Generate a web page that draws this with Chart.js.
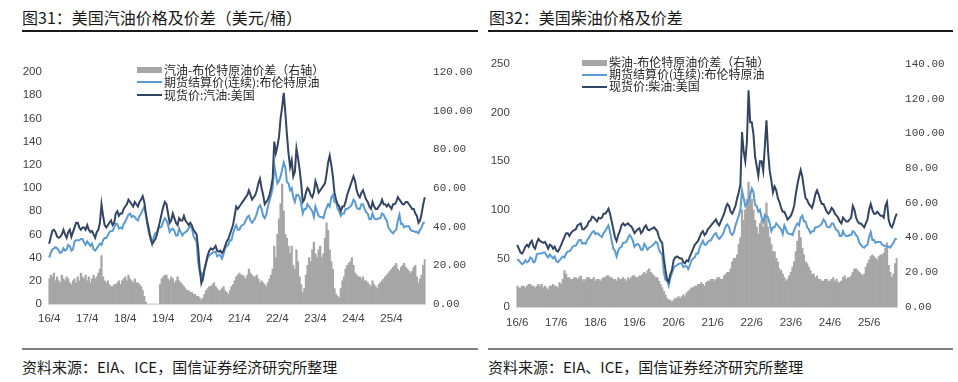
<!DOCTYPE html>
<html><head><meta charset="utf-8">
<script src="https://cdn.jsdelivr.net/npm/chart.js@4.4.1/dist/chart.umd.min.js"></script>
<style>
html,body{margin:0;padding:0;background:#fff;}
body{width:958px;height:382px;position:relative;overflow:hidden;font-family:"Noto Sans CJK SC",sans-serif;}
.abs{position:absolute;}
.title{font-size:16px;line-height:20px;color:#1a1a1a;top:7px;white-space:nowrap;}
.rtop{height:2px;background:#1a1a1a;top:30px;}
.rbot{height:2px;background:#808080;top:348px;}
.src{font-size:15px;line-height:18px;top:358px;color:#1a1a1a;white-space:nowrap;}
.legend{font-size:12px;color:#262626;}
.row{display:flex;align-items:center;height:12.5px;line-height:12.5px;white-space:nowrap;}
.sw{width:25px;margin-right:2px;flex:none;}
canvas{position:absolute;top:0;}
</style></head><body>

<div class="abs title" style="left:22px">图31：美国汽油价格及价差（美元/桶）</div>
<div class="abs rtop" style="left:22px;width:456px"></div>
<canvas id="c1" width="480" height="334" style="left:0"></canvas>
<div class="abs legend" style="left:137px;top:63.5px">
  <div class="row"><span class="sw" style="height:6px;background:#a6a6a6"></span>汽油-布伦特原油价差（右轴）</div>
  <div class="row"><span class="sw" style="height:2px;background:#5b9bd5"></span>期货结算价(连续):布伦特原油</div>
  <div class="row"><span class="sw" style="height:2px;background:#344563"></span>现货价:汽油:美国</div>
</div>
<div class="abs rbot" style="left:22px;width:456px"></div>
<div class="abs src" style="left:22px">资料来源：EIA、ICE，国信证券经济研究所整理</div>

<div class="abs title" style="left:489px">图32：美国柴油价格及价差</div>
<div class="abs rtop" style="left:488px;width:465px"></div>
<canvas id="c2" width="478" height="340" style="left:480px"></canvas>
<div class="abs legend" style="left:582px;top:56.5px">
  <div class="row" style="height:12px"><span class="sw" style="height:6px;background:#a6a6a6"></span>柴油-布伦特原油价差（右轴）</div>
  <div class="row" style="height:12px"><span class="sw" style="height:2px;background:#5b9bd5"></span>期货结算价(连续):布伦特原油</div>
  <div class="row" style="height:12px"><span class="sw" style="height:2px;background:#344563"></span>现货价:柴油:美国</div>
</div>
<div class="abs rbot" style="left:488px;width:465px"></div>
<div class="abs src" style="left:488px">资料来源：EIA、ICE，国信证券经济研究所整理</div>

<script>
// ---- categories: two readings per month ----
const gasStart = [2016, 4];     // first month of gasoline chart
const dieselStart = [2016, 6];  // first month of diesel chart
const gasTickLabels = ['16/4','17/4','18/4','19/4','20/4','21/4','22/4','23/4','24/4','25/4'];
const dieselTickLabels = ['16/6','17/6','18/6','19/6','20/6','21/6','22/6','23/6','24/6','25/6'];

// ---- Brent futures, USD/bbl, Apr 2016 .. Feb 2026 (half-month readings) ----
const brentFutures = [
  40,44, 47,48, 49,48, 46,44, 45,48, 46,47, 51,50, 46,47, 54,55,
  55,55, 56,56, 53,51, 54,52, 50,52, 47,46, 48,50, 52,51, 55,57, 57,59, 62,63, 63,66,
  69,69, 65,66, 65,69, 71,74, 77,78, 75,76, 75,73, 72,76, 78,81, 84,77, 68,60, 58,52,
  58,61, 62,66, 66,67, 71,74, 72,68, 62,64, 65,63, 59,59, 65,62, 59,61, 62,63, 65,67,
  66,59, 56,54, 36,28, 27,22, 30,35, 40,42, 43,44, 45,45, 41,42, 42,39, 43,48, 50,51,
  55,55, 61,65, 68,64, 64,67, 68,69, 72,75, 76,72, 70,72, 74,78, 83,85, 82,76, 74,77,
  84,89, 94,100, 120,112, 104,106, 110,116, 122,118, 105,104, 98,100, 92,88, 94,94, 92,86, 78,82,
  82,86, 84,82, 80,75, 84,80, 76,75, 75,74, 79,83, 86,84, 92,94, 88,88, 82,80, 76,78,
  78,82, 82,83, 84,86, 90,88, 83,82, 82,86, 86,82, 79,78, 73,73, 78,74, 73,73, 74,74,
  78,77, 74,72, 66,64, 62,61, 63,64, 72,77, 69,69, 66,67, 67,67, 64,63, 63,62, 62,61,
  64,66, 70,70
];
// ---- US gasoline spot, Apr 2016 .. Feb 2026 ----
const gasSpot = [
  52,58, 63,64, 62,58, 57,58, 60,64, 60,57, 62,64, 58,62, 66,70,
  70,66, 64,66, 66,64, 68,64, 62,63, 60,57, 62,64, 70,86, 76,68, 66,68, 70,72, 68,70,
  78,80, 76,78, 78,82, 84,86, 90,88, 86,84, 88,86, 84,88, 90,93, 88,78, 70,64, 56,52,
  54,56, 60,66, 72,78, 84,88, 86,78, 70,72, 78,74, 70,68, 74,72, 72,76, 72,70, 68,70,
  68,64, 62,60, 48,30, 18,22, 30,36, 42,46, 48,47, 48,50, 46,45, 46,44, 46,50, 54,56,
  60,64, 68,76, 84,82, 84,86, 88,90, 92,94, 98,94, 90,92, 94,98, 104,108, 100,94, 86,88,
  90,94, 100,108, 140,130, 136,144, 160,170, 182,165, 146,130, 118,124, 110,114, 134,126, 116,104, 88,90,
  96,100, 98,94, 92,96, 106,102, 96,98, 100,102, 104,112, 122,128, 120,110, 96,90, 86,84, 80,84,
  84,88, 94,98, 102,106, 110,106, 98,94, 92,96, 98,94, 90,88, 84,82, 88,84, 82,82, 84,86,
  90,86, 86,84, 86,84, 82,86, 86,88, 92,90, 88,86, 86,88, 88,86, 84,82, 82,78, 76,70,
  72,78, 86,92
];
// ---- gasoline - Brent spread (right axis) ----
const gasSpread = [
  13,15, 14,16, 12,14, 12,11, 15,13, 12,14, 13,11, 10,12, 13,11,
  14,12, 16,14, 13,15, 12,14, 11,13, 15,13, 14,16, 18,25, 14,12, 11,12, 10,9, 9,10,
  10,11, 12,10, 12,13, 14,12, 15,13, 12,11, 13,11, 11,10, 9,7, 4,1, 0,0, 0,0,
  0,0, 0,0, 10,13, 14,15, 15,13, 12,14, 13,11, 12,14, 12,11, 10,9, 8,7, 7,6,
  6,5, 5,4, 4,3, 2,3, 5,7, 8,9, 9,10, 11,9, 8,7, 7,8, 9,7, 6,5,
  7,9, 10,12, 14,15, 16,15, 15,14, 13,15, 18,16, 15,14, 14,15, 13,11, 12,11, 10,9,
  11,13, 15,18, 30,24, 36,44, 52,62, 48,36, 34,30, 26,30, 20,18, 28,22, 14,10, 6,8,
  15,20, 24,22, 28,32, 26,24, 28,30, 24,26, 34,42, 38,28, 22,18, 8,5, 4,3, 8,12,
  14,18, 20,21, 22,24, 20,16, 15,14, 14,13, 14,12, 12,11, 10,9, 12,10, 9,8, 10,11,
  12,13, 14,15, 16,17, 18,19, 20,21, 18,17, 19,20, 21,19, 18,17, 16,17, 19,20, 14,11,
  13,15, 20,23
];
// ---- US diesel spot, Jun 2016 .. Feb 2026 ----
const dieselSpot = [
  64,60, 56,55, 58,62, 64,62, 66,68, 62,60, 66,70,
  68,67, 66,67, 64,60, 64,63, 60,62, 58,57, 60,64, 68,72, 76,76, 73,76, 78,79, 80,84,
  85,86, 80,80, 82,84, 88,89, 93,92, 90,88, 92,91, 92,96, 96,98, 101,96, 88,80, 72,68,
  74,78, 84,86, 84,85, 86,84, 83,80, 76,78, 80,81, 76,78, 82,84, 80,79, 80,81, 82,80,
  78,72, 68,66, 50,38, 28,26, 34,38, 48,51, 52,51, 50,50, 46,45, 48,47, 52,56, 60,64,
  66,68, 72,76, 78,74, 76,80, 82,84, 86,88, 90,86, 84,88, 92,96, 102,106, 104,98, 96,100,
  104,112, 118,126, 180,160, 150,170, 223,190, 190,178, 155,145, 135,150, 150,140, 165,192, 160,140, 130,118,
  124,120, 112,108, 102,98, 98,94, 90,92, 94,98, 104,116, 126,134, 141,134, 122,112, 110,106, 104,102,
  108,116, 120,116, 110,106, 106,102, 98,96, 98,102, 100,96, 94,92, 88,86, 92,90, 88,88, 90,92,
  104,100, 92,88, 86,86, 84,82, 86,90, 100,106, 100,96, 96,98, 96,94, 94,92, 104,108, 90,84,
  82,86, 92,96
];
// ---- diesel - Brent spread (right axis) ----
const dieselSpread = [
  12,11, 11,12, 12,11, 12,13, 13,12, 12,11, 12,13,
  12,13, 11,12, 11,10, 12,12, 13,12, 12,11, 14,13, 16,21, 19,17, 17,16, 16,17, 17,16,
  17,18, 16,15, 16,17, 17,16, 16,17, 15,16, 16,15, 16,17, 17,18, 18,17, 17,16, 16,15,
  17,16, 16,17, 16,15, 17,16, 17,18, 18,17, 17,18, 18,19, 20,19, 21,22, 20,19, 18,17,
  17,15, 13,11, 9,7, 5,4, 4,3, 4,5, 5,6, 5,6, 7,6, 8,9, 10,11, 11,12,
  12,13, 13,14, 13,12, 14,15, 15,16, 16,15, 16,17, 17,16, 16,18, 19,20, 20,22, 26,28,
  28,30, 36,40, 56,50, 56,62, 72,66, 62,56, 50,46, 42,48, 50,46, 54,60, 46,40, 36,32,
  32,28, 26,22, 21,19, 17,15, 16,18, 20,23, 26,32, 38,44, 40,34, 30,26, 25,23, 21,19,
  19,17, 18,16, 16,15, 15,16, 16,15, 15,16, 17,15, 16,14, 14,15, 17,18, 16,17, 17,18,
  20,22, 22,21, 20,19, 18,19, 23,25, 27,29, 30,29, 28,27, 29,30, 30,31, 34,37, 24,20,
  17,19, 25,28
];
const brentDiesel = brentFutures.slice(4); // diesel chart starts two months later

function halfMonthLabels(start, n) {
  const out = [];
  let y = start[0], m = start[1];
  for (let i = 0; i < n; i += 2) {
    const base = String(y % 100) + '/' + m;
    out.push(base, base + ' 下半月');
    m++; if (m > 12) { m = 1; y++; }
  }
  return out.slice(0, n);
}

const tickFont = {family: 'Liberation Sans', size: 11.5};
const monoFont = {family: 'Liberation Mono', size: 11};
const txt = '#404040';

function build(id, cats, tickLabels, spread, brent, spot, g) {
  new Chart(document.getElementById(id), {
    type: 'bar',
    data: {
      labels: cats,
      datasets: [
        {type: 'line', label: g.spotLabel, data: spot, yAxisID: 'y', borderColor: '#344563',
         borderWidth: 2, pointRadius: 0, tension: 0, order: 0},
        {type: 'line', label: '期货结算价(连续):布伦特原油', data: brent, yAxisID: 'y', borderColor: '#5b9bd5',
         borderWidth: 2, pointRadius: 0, tension: 0, order: 1},
        {type: 'bar', label: g.spreadLabel, data: spread, yAxisID: 'y1', backgroundColor: '#a6a6a6',
         borderWidth: 0, barPercentage: 1, categoryPercentage: 1, order: 2}
      ]
    },
    options: {
      responsive: false, animation: false,
      layout: {padding: {top: g.top, left: 0, right: 0, bottom: 0}},
      plugins: {legend: {display: false}, tooltip: {enabled: false}},
      scales: {
        x: {
          offset: true,
          grid: {display: false, drawTicks: false},
          border: {display: true, color: '#d9d9d9', width: 1},
          ticks: {autoSkip: false, maxRotation: 0, minRotation: 0, padding: g.xPad, color: txt, font: tickFont,
            callback(v) { const l = this.getLabelForValue(v); return tickLabels.includes(l) ? l : null; }},
          afterFit(s) { s.height = g.xH; }
        },
        y: {
          position: 'left', min: 0, max: g.yMax,
          grid: {display: false, drawTicks: false}, border: {display: false},
          ticks: {stepSize: g.yStep, padding: 6.5, color: txt, font: tickFont},
          afterFit(s) { s.width = g.yW; }
        },
        y1: {
          position: 'right', min: 0, max: g.y1Max,
          grid: {display: false, drawTicks: false}, border: {display: false},
          ticks: {stepSize: 20, padding: 7.5, color: txt, font: monoFont, callback: v => v.toFixed(2)},
          afterFit(s) { s.width = g.y1W; }
        }
      }
    }
  });
}

build('c1', halfMonthLabels(gasStart, gasSpot.length), gasTickLabels, gasSpread, brentFutures, gasSpot,
  {spotLabel: '现货价:汽油:美国', spreadLabel: '汽油-布伦特原油价差（右轴）',
   top: 72, xH: 30, xPad: 8, yMax: 200, yStep: 20, y1Max: 120, yW: 48.4, y1W: 54.4});
build('c2', halfMonthLabels(dieselStart, dieselSpot.length), dieselTickLabels, dieselSpread, brentDiesel, dieselSpot,
  {spotLabel: '现货价:柴油:美国', spreadLabel: '柴油-布伦特原油价差（右轴）',
   top: 64, xH: 33, xPad: 8.5, yMax: 250, yStep: 50, y1Max: 140, yW: 36.4, y1W: 60.4});
</script>
</body></html>
